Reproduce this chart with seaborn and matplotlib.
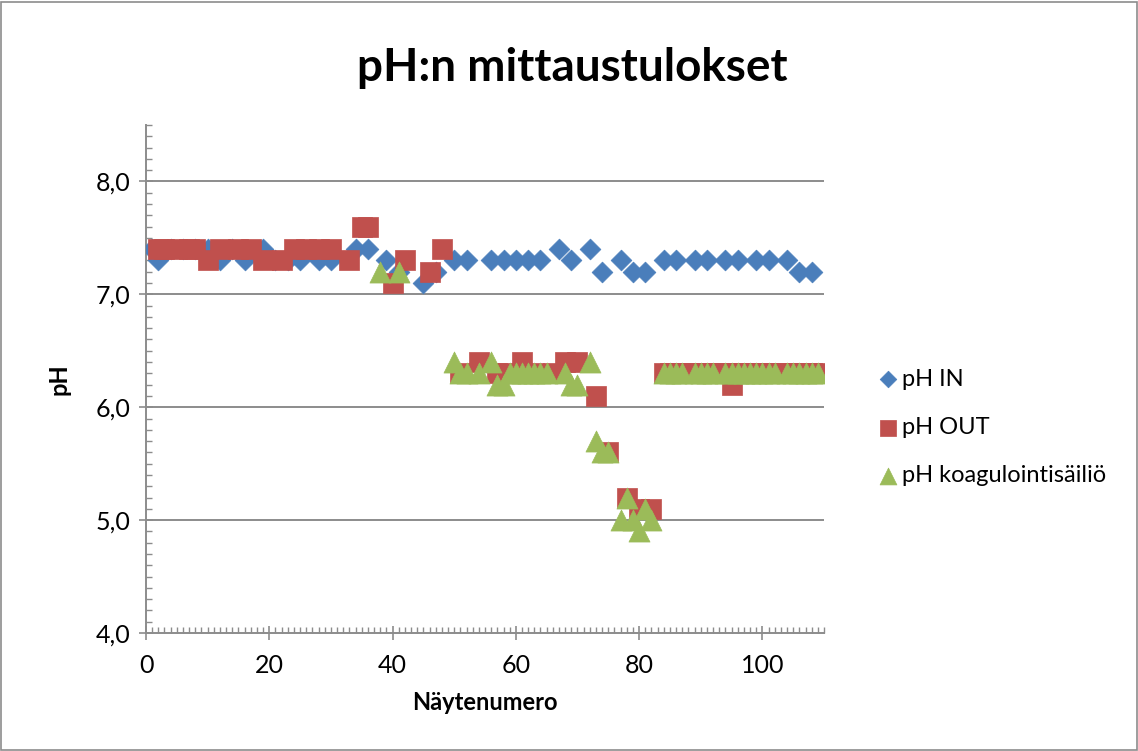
import matplotlib
matplotlib.use("Agg")
import matplotlib.pyplot as plt
import seaborn as sns
import pandas as pd
from matplotlib.ticker import MultipleLocator, FuncFormatter
from matplotlib.patches import Rectangle

# ---- data ----
in_x = [1, 2, 4, 6, 8, 10, 12, 14, 16, 19, 21, 23, 25, 28, 30, 34, 36, 39, 41, 45, 47,
        50, 52, 56, 58, 60, 62, 64, 67, 69, 72, 74, 77, 79, 81, 84, 86, 89, 91, 94, 96,
        99, 101, 104, 106, 108]
in_y = [7.4, 7.3, 7.4, 7.4, 7.4, 7.4, 7.3, 7.4, 7.3, 7.4, 7.3, 7.3, 7.3, 7.3, 7.3, 7.4, 7.4,
        7.3, 7.2, 7.1, 7.2, 7.3, 7.3, 7.3, 7.3, 7.3, 7.3, 7.3, 7.4, 7.3, 7.4, 7.2, 7.3, 7.2,
        7.2, 7.3, 7.3, 7.3, 7.3, 7.3, 7.3, 7.3, 7.3, 7.3, 7.2, 7.2]

out_x = [2, 3, 5, 7, 8, 10, 12, 15, 17, 19, 22, 24, 26, 28, 30, 33, 35, 36, 40, 42, 46, 48,
         51, 54, 57, 58, 61, 63, 66, 68, 70, 73, 75, 78, 80, 82,
         84, 85, 86, 87, 88, 89, 90, 91, 92, 93, 94, 95, 96, 97, 98, 99, 100, 101, 102,
         103, 104, 105, 106, 107, 108, 109]
out_y = [7.4, 7.4, 7.4, 7.4, 7.4, 7.3, 7.4, 7.4, 7.4, 7.3, 7.3, 7.4, 7.4, 7.4, 7.4, 7.3,
         7.6, 7.6, 7.1, 7.3, 7.2, 7.4,
         6.3, 6.4, 6.3, 6.3, 6.4, 6.3, 6.3, 6.4, 6.4, 6.1, 5.6, 5.2, 5.1, 5.1,
         6.3, 6.3, 6.3, 6.3, 6.3, 6.3, 6.3, 6.3, 6.3, 6.3, 6.3, 6.2, 6.3, 6.3, 6.3, 6.3,
         6.3, 6.3, 6.3, 6.3, 6.3, 6.3, 6.3, 6.3, 6.3, 6.3]

koag_x = [38, 41, 50, 51, 52, 54, 56, 57, 58, 59, 60, 61, 62, 63, 64, 65, 68, 69, 70, 72,
          73, 74, 75, 77, 78, 79, 80, 81, 82,
          84, 85, 86, 87, 89, 90, 91, 92, 94, 95, 96, 97, 98, 99, 100, 101, 102, 104, 105,
          106, 107, 108, 109]
koag_y = [7.2, 7.2, 6.4, 6.3, 6.3, 6.3, 6.4, 6.2, 6.2, 6.3, 6.3, 6.3, 6.3, 6.3, 6.3, 6.3,
          6.3, 6.2, 6.2, 6.4, 5.7, 5.6, 5.6, 5.0, 5.2, 5.0, 4.9, 5.1, 5.0,
          6.3, 6.3, 6.3, 6.3, 6.3, 6.3, 6.3, 6.3, 6.3, 6.3, 6.3, 6.3, 6.3, 6.3, 6.3, 6.3,
          6.3, 6.3, 6.3, 6.3, 6.3, 6.3, 6.3]

series_names = ["pH IN", "pH OUT", "pH koagulointisäiliö"]
title = "pH:n mittaustulokset"
xlabel = "Näytenumero"
ylabel = "pH"

# ---- style ----
sns.set_style("white")
plt.rcParams["font.family"] = ["Lato", "DejaVu Sans"]
plt.rcParams["text.color"] = "black"
plt.rcParams["axes.labelcolor"] = "black"

fig = plt.figure(figsize=(11.38, 7.51), dpi=100)
ax = fig.add_axes([0.1283, 0.1571, 0.5958, 0.6765])

blue = "#4A7EBB"
red = "#C0504D"
green = "#9BBB59"

sns.scatterplot(x=in_x, y=in_y, ax=ax, marker="D", s=112, color=blue,
                edgecolor=blue, linewidth=0.5, label=series_names[0], zorder=3)
sns.scatterplot(x=out_x, y=out_y, ax=ax, marker="s", s=205, color=red,
                edgecolor=red, linewidth=0.5, label=series_names[1], zorder=4)
sns.scatterplot(x=koag_x, y=koag_y, ax=ax, marker="^", s=230, color=green,
                edgecolor=green, linewidth=0.5, label=series_names[2], zorder=5)

ax.set_xlim(0, 110)
ax.set_ylim(4.0, 8.5)
ax.xaxis.set_major_locator(MultipleLocator(20))
ax.xaxis.set_minor_locator(MultipleLocator(1))
ax.yaxis.set_major_locator(MultipleLocator(1))
ax.yaxis.set_minor_locator(MultipleLocator(0.1))
ax.yaxis.set_major_formatter(FuncFormatter(lambda v, p: f"{v:.1f}".replace(".", ",")))

for yv in [5, 6, 7, 8]:
    ax.axhline(yv, color="#8C8C8C", lw=1.4, zorder=1)

gray = "#8C8C8C"
for s in ["top", "right"]:
    ax.spines[s].set_visible(False)
for s in ["left", "bottom"]:
    ax.spines[s].set_color(gray)
    ax.spines[s].set_linewidth(1.4)
ax.tick_params(axis="both", which="major", direction="inout", length=10, width=1.2,
               color=gray, labelsize=18, labelcolor="black")
ax.tick_params(axis="x", which="major", pad=10)
ax.tick_params(axis="y", which="major", pad=6)
ax.tick_params(axis="both", which="minor", direction="in", length=4, width=1.0, color=gray)
ax.tick_params(left=True, bottom=True, which="both")

ax.set_xlabel(xlabel, fontsize=17, fontweight="bold", labelpad=10, color="black")
ax.set_ylabel(ylabel, fontsize=17, fontweight="bold", labelpad=18, color="black")

fig.text(0.503, 0.909, title, fontsize=33, fontweight="bold", ha="center", va="center",
         color="black")

leg = ax.legend(loc="center left", bbox_to_anchor=(1.045, 0.405), frameon=False,
                fontsize=17, labelspacing=1.15, handletextpad=0.1, handlelength=1.0,
                markerscale=0.8)
for t in leg.get_texts():
    t.set_color("black")

fig.patches.append(Rectangle((0.001, 0.001), 0.998, 0.997, transform=fig.transFigure,
                             fill=False, edgecolor="#8C8C8C", lw=1.2))

fig.savefig("out.png", dpi=100)
